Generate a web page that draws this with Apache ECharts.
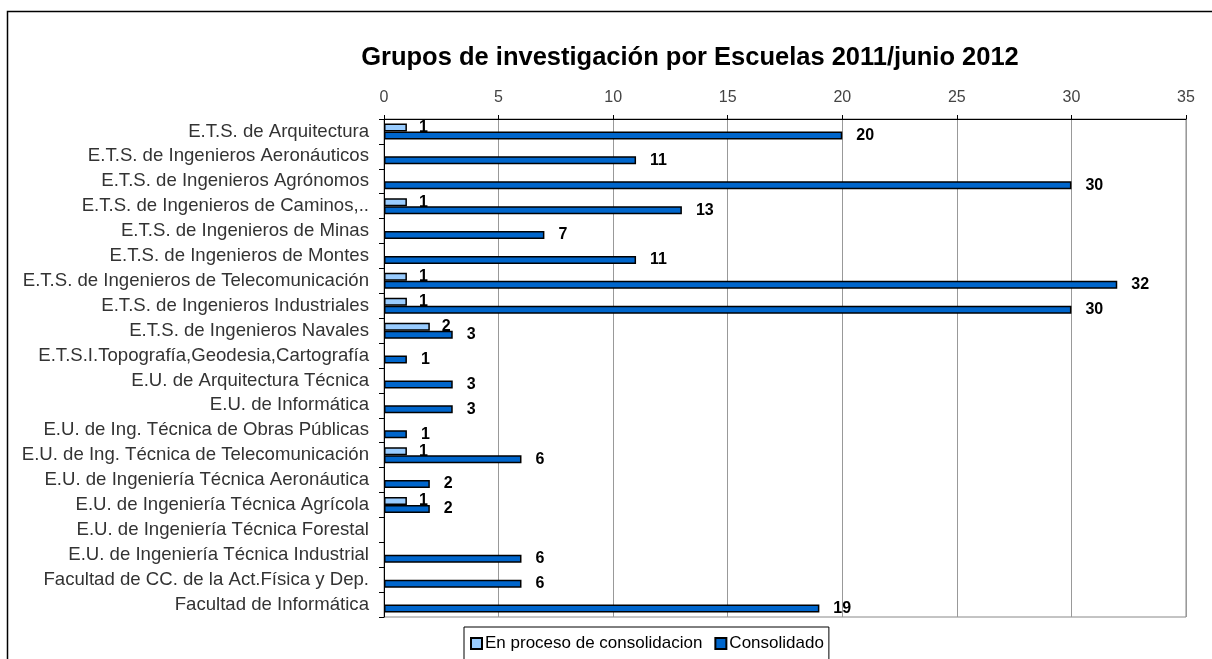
<!DOCTYPE html>
<html>
<head>
<meta charset="utf-8">
<script src="https://cdn.jsdelivr.net/npm/echarts@6/dist/echarts.min.js"></script>
<style>
  html, body { margin: 0; padding: 0; background: #fff; }
  #chart { width: 1212px; height: 659px; }
</style>
</head>
<body>
<div id="chart"></div>
<script>
var escuelas = [
  'E.T.S. de Arquitectura',
  'E.T.S. de Ingenieros Aeronáuticos',
  'E.T.S. de Ingenieros Agrónomos',
  'E.T.S. de Ingenieros de Caminos,..',
  'E.T.S. de Ingenieros de Minas',
  'E.T.S. de Ingenieros de Montes',
  'E.T.S. de Ingenieros de Telecomunicación',
  'E.T.S. de Ingenieros Industriales',
  'E.T.S. de Ingenieros Navales',
  'E.T.S.I.Topografía,Geodesia,Cartografía',
  'E.U. de Arquitectura Técnica',
  'E.U. de Informática',
  'E.U. de Ing. Técnica de Obras Públicas',
  'E.U. de Ing. Técnica de Telecomunicación',
  'E.U. de Ingeniería Técnica Aeronáutica',
  'E.U. de Ingeniería Técnica Agrícola',
  'E.U. de Ingeniería Técnica Forestal',
  'E.U. de Ingeniería Técnica Industrial',
  'Facultad de CC. de la Act.Física y Dep.',
  'Facultad de Informática'
]
var enProceso = [1, '-', '-', 1, '-', '-', 1, 1, 2, '-', '-', '-', '-', 1, '-', 1, '-', '-', '-', '-']
var consolidado = [20, 11, 30, 13, 7, 11, 32, 30, 3, 1, 3, 3, 1, 6, 2, 2, '-', 6, 6, 19]
var xTicks = { min: 0, max: 35, interval: 5 }

var font = 'Arial, "Liberation Sans", sans-serif'

var chart = echarts.init(document.getElementById('chart'))
chart.setOption({
  animation: false,
  textStyle: { fontFamily: font },
  title: {
    text: 'Grupos de investigación por Escuelas 2011/junio 2012',
    left: 685,
    top: 40,
    textAlign: 'center',
    textStyle: { fontSize: 25.5, fontWeight: 'bold', color: '#000', fontFamily: font }
  },
  legend: {
    data: ['En proceso de consolidacion', 'Consolidado'],
    left: 464,
    top: 627,
    icon: 'rect',
    itemWidth: 11,
    itemHeight: 11,
    itemGap: 12,
    padding: [8, 5, 9, 6],
    borderColor: '#000',
    borderWidth: 1,
    textStyle: { fontSize: 17, color: '#000', padding: [0, 0, 0, -2] }
  },
  graphic: [{
    type: 'rect',
    shape: { x: 7.5, y: 11.5, width: 1230, height: 700 },
    style: { fill: 'none', stroke: '#000', lineWidth: 1.5 },
    silent: true
  }],
  grid: {
    left: 384,
    right: 26,
    top: 119,
    bottom: 42,
    show: true,
    borderColor: '#888',
    borderWidth: 1
  },
  xAxis: {
    type: 'value',
    position: 'top',
    min: xTicks.min,
    max: xTicks.max,
    interval: xTicks.interval,
    axisLine: { show: true, lineStyle: { color: '#000', width: 1 } },
    axisTick: { show: true, length: 4, lineStyle: { color: '#000' } },
    axisLabel: { fontSize: 16, color: '#444', margin: 13 },
    splitLine: { lineStyle: { color: '#999', width: 1 } }
  },
  yAxis: {
    type: 'category',
    inverse: true,
    data: escuelas,
    axisLine: { show: true, lineStyle: { color: '#000', width: 1 } },
    axisTick: { show: true, length: 5, lineStyle: { color: '#000' } },
    axisLabel: { fontSize: 18.6, color: '#333', margin: 15 }
  },
  series: [
    {
      name: 'En proceso de consolidacion',
      type: 'bar',
      data: enProceso,
      barWidth: 8,
      barGap: '0%',
      itemStyle: { color: '#99CCFF', borderColor: '#000', borderWidth: 1.5 },
      label: { show: true, position: 'right', distance: 12, fontSize: 16, fontWeight: 'bold', color: '#000' }
    },
    {
      name: 'Consolidado',
      type: 'bar',
      data: consolidado,
      barWidth: 8,
      barGap: '0%',
      itemStyle: { color: '#0066CC', borderColor: '#000', borderWidth: 1.5 },
      label: { show: true, position: 'right', distance: 14, fontSize: 16, fontWeight: 'bold', color: '#000' }
    }
  ]
})
</script>
</body>
</html>
